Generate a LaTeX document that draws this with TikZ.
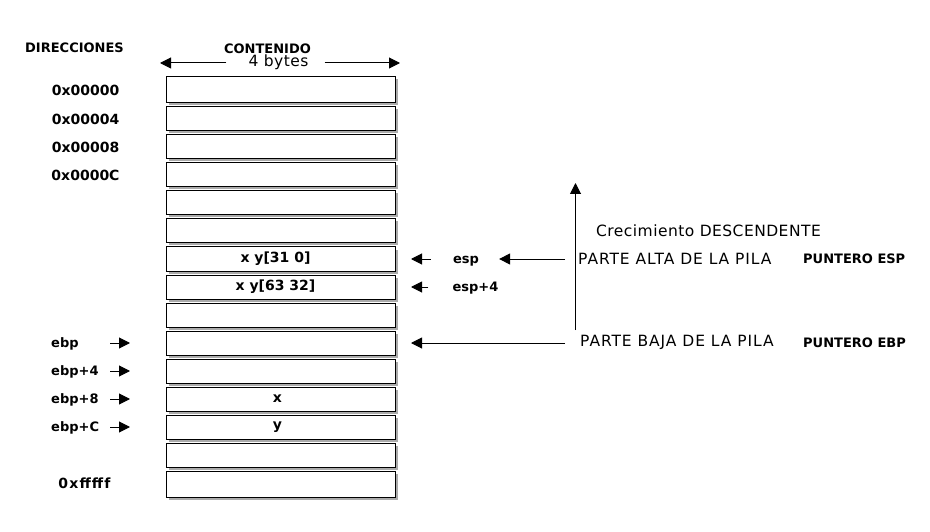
\documentclass[tikz,border=0pt]{standalone}
\usepackage{fontspec}
\setmainfont{DejaVu Sans}
\newfontfamily\regfont[LetterSpace=3]{DejaVu Sans}
\newfontfamily\widefont[LetterSpace=6]{DejaVu Sans}
\usetikzlibrary{arrows.meta,shadows}
\begin{document}
\begin{tikzpicture}[x=1pt,y=-1pt,
  cell/.style={draw=black, line width=1pt, fill=white, minimum width=229pt,
    minimum height=24pt, inner sep=0pt, outer sep=0pt,
    drop shadow={shadow xshift=2.5pt, shadow yshift=-2.5pt, fill=black!55, opacity=0.6},
    font=\fontsize{14}{16}\selectfont\bfseries},
  tallcell/.style={cell, minimum height=26pt},
  bl/.style={inner sep=0pt, font=\fontsize{13}{15}\selectfont\bfseries},
  hexl/.style={inner sep=0pt, font=\fontsize{14}{16}\selectfont\bfseries},
  rg/.style={inner sep=0pt, font=\fontsize{15.5}{18}\selectfont\regfont},
  rgw/.style={inner sep=0pt, font=\fontsize{15.5}{18}\selectfont\widefont},
  arr/.style={line width=1pt, -{Triangle[length=11pt,width=11pt]}}]
\useasboundingbox[fill=white] (0,0) rectangle (930,532);

% header
\node[bl] (dir) at (74.5,48) {DIRECCIONES};
\node[bl] (cont) at (267.5,49) {CONTENIDO};
\node[rg] (bytes) at (278.5,62.5) {4 bytes};
\coordinate (cl) at (160,63);
\coordinate (cr) at (400,63);
\draw[arr, shorten <=22pt] (bytes.west |- cl) -- (cl);
\draw[arr, shorten <=16pt] (bytes.east |- cr) -- (cr);

% stack cells
\node[tallcell] (r0) at (280.5,90) {};
\node[cell] (r1) at (280.5,119) {};
\node[cell] (r2) at (280.5,147) {};
\node[cell] (r3) at (280.5,175) {};
\node[cell] (r4) at (280.5,203) {};
\node[cell] (r5) at (280.5,231) {};
\node[cell] (r6) at (280.5,259) {\hspace*{-10pt}x y[31 0]};
\node[cell] (r7) at (280.5,287) {\hspace*{-10pt}x y[63 32]};
\node[cell] (r8) at (280.5,315) {};
\node[cell] (r9) at (280.5,343) {};
\node[cell] (r10) at (280.5,371) {};
\node[cell] (r11) at (280.5,399) {\hspace*{-6pt}x};
\node[cell] (r12) at (280.5,427) {\hspace*{-6pt}y};
\node[cell] (r13) at (280.5,455) {};
\node[tallcell] (r14) at (280.5,484.5) {};

% addresses
\node[hexl] (a0) at (85.5,90) {0x00000};
\node[hexl] (a1) at (85.5,119) {0x00004};
\node[hexl] (a2) at (85.5,147) {0x00008};
\node[hexl] (a3) at (85.5,175) {0x0000C};
\node[hexl, font=\fontsize{14}{16}\selectfont\addfontfeatures{LetterSpace=8}\bfseries] (a14) at (84.5,483) {0xfffff};

% ebp labels
\node[bl, anchor=west] (ebp) at (51,344) {ebp};
\node[bl, anchor=west] (ebp4) at (51,371.5) {ebp+4};
\node[bl, anchor=west] (ebp8) at (51,399.5) {ebp+8};
\node[bl, anchor=west] (ebpc) at (51,427.5) {ebp+C};
\foreach \r in {r9,r10,r11,r12}{
  \draw[arr, shorten >=36pt] ([xshift=-56pt]\r.west) -- (\r.west);
}

% right side
\node[bl] (esp) at (466,261) {esp};
\node[bl] (esp4) at (475.5,288.5) {esp+4};
\node[rg, anchor=west] (crec) at (596,231) {Crecimiento DESCENDENTE};
\node[rgw, anchor=west] (alta) at (578,258.5) {PARTE ALTA DE LA PILA};
\node[bl, anchor=west] (pesp) at (803,259) {PUNTERO ESP};
\node[rgw, anchor=west] (baja) at (580,342.5) {PARTE BAJA DE LA PILA};
\node[bl, anchor=west] (pebp) at (803,343) {PUNTERO EBP};

\draw[arr, shorten <=22pt, shorten >=16pt] (esp.west |- r6.east) -- (r6.east);
\draw[arr, shorten <=24pt, shorten >=16pt] (esp4.west |- r7.east) -- (r7.east);
\draw[arr, shorten <=13pt, shorten >=20pt] (alta.west |- r6.east) -- (esp.east |- r6.east);
\draw[arr, shorten <=15pt, shorten >=16pt] (baja.west |- r9.east) -- (r9.east);

\coordinate (vb) at (575.5,330);
\coordinate (vt) at (575.5,183);
\draw[arr] (vb) -- (vt);
\end{tikzpicture}
\end{document}
